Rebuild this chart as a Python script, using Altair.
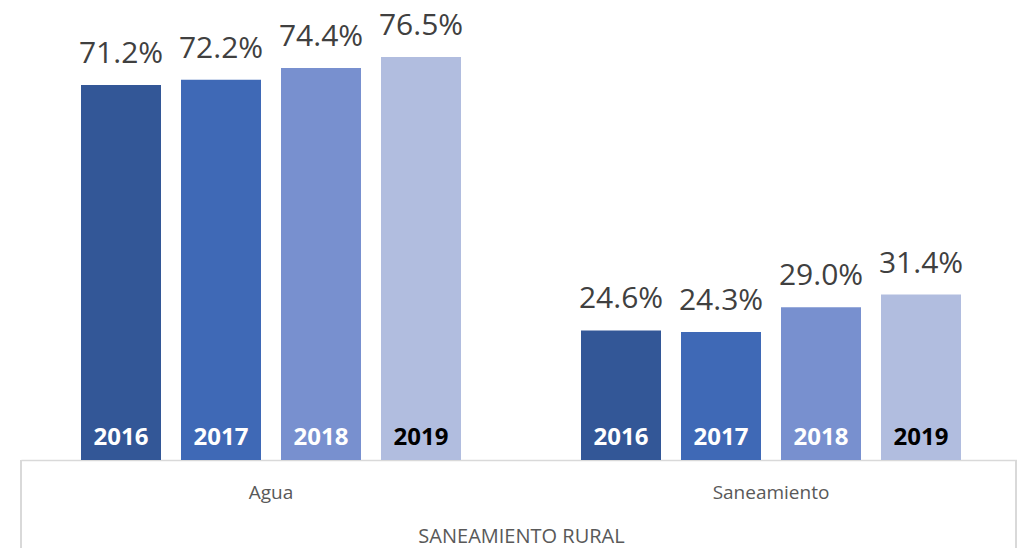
import altair as alt
import pandas as pd

groups = ["Agua", "Saneamiento"]
years = ["2016", "2017", "2018", "2019"]
agua = [71.2, 72.2, 74.4, 76.5]
saneamiento = [24.6, 24.3, 29.0, 31.4]
colors = ["#335797", "#3f69b6", "#7890cf", "#b1bddf"]

rows = []
for g, vals in zip(groups, [agua, saneamiento]):
    for y, v in zip(years, vals):
        rows.append({"grupo": g, "year": y, "value": v})
df = pd.DataFrame(rows)

W, H = 996, 452
FONT = "Open Sans"

x = alt.X("grupo:N", sort=groups,
          scale=alt.Scale(paddingInner=0, paddingOuter=0, range=[0, 1000]),
          axis=alt.Axis(title="SANEAMIENTO RURAL", labelAngle=0, ticks=False, tickSize=0,
                        labelFontSize=19, labelColor="#595959", labelFont=FONT,
                        labelPadding=23, domainColor="#d9d9d9", domainWidth=1.5,
                        titleFontSize=20, titleFontWeight="normal", titleColor="#595959",
                        titleFont=FONT, titlePadding=24))
xo = alt.XOffset("year:N", sort=years, scale=alt.Scale(paddingInner=0.2, paddingOuter=0.6))
yscale = alt.Scale(domain=[0, 85.8], nice=False, zero=True)

base = alt.Chart(df)

bars = base.mark_bar().encode(
    x=x, xOffset=xo,
    y=alt.Y("value:Q", scale=yscale, axis=None),
    color=alt.Color("year:N", sort=years, scale=alt.Scale(domain=years, range=colors), legend=None),
)

values = base.transform_calculate(
    label="format(datum.value, '.1f') + '%'"
).mark_text(baseline="alphabetic", dy=-22, fontSize=30, font=FONT, color="#404040").encode(
    x=x, xOffset=xo,
    y=alt.Y("value:Q", scale=yscale, axis=None),
    text="label:N",
)

yearlabels = base.mark_text(baseline="alphabetic", dy=-15, fontSize=24, font=FONT,
                            fontWeight="bold").encode(
    x=x, xOffset=xo,
    y=alt.datum(0, scale=yscale),
    text="year:N",
    color=alt.condition(alt.datum.year == "2019", alt.value("#000000"), alt.value("#ffffff")),
)

left = alt.Chart(df).mark_rule(color="#d9d9d9", strokeWidth=1.5).encode(
    x=alt.value(0), y=alt.value(H), y2=alt.value(H + 100))
right = alt.Chart(df).mark_rule(color="#d9d9d9", strokeWidth=1.5).encode(
    x=alt.value(W - 1), y=alt.value(H), y2=alt.value(H + 100))

chart = alt.layer(bars, values, yearlabels, left, right).properties(
    width=W, height=H,
    padding={"left": 13, "top": 0, "right": 0, "bottom": 100},
    autosize=alt.AutoSizeParams(type="none"),
).configure_view(strokeWidth=0)

chart.save("out.html", embed_options={"renderer": "svg", "actions": False})
